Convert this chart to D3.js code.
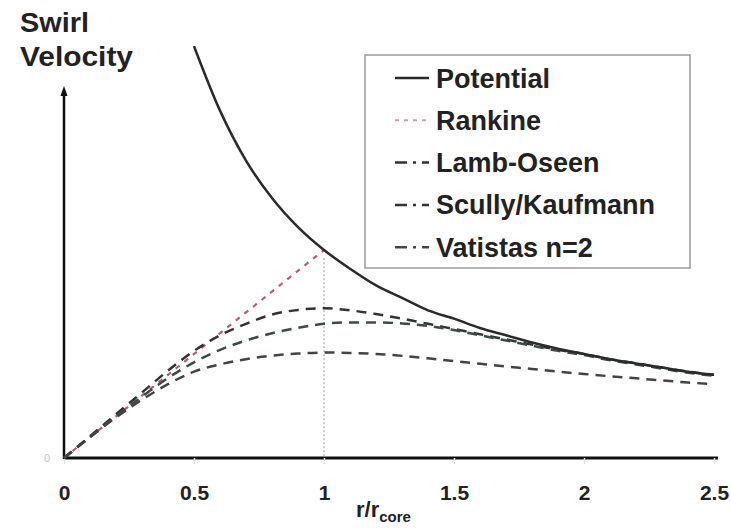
<!DOCTYPE html>
<html>
<head>
<meta charset="utf-8">
<script src="https://cdn.jsdelivr.net/npm/d3@7"></script>
<style>
  html, body { margin: 0; padding: 0; background: #fff; }
  svg { display: block; font-family: "Liberation Sans", Arial, sans-serif; }
</style>
</head>
<body>
<svg id="chart" width="731" height="528"></svg>
<script>
// ---- data ----
const radius = [0,0.1,0.2,0.3,0.4,0.5,0.6,0.7,0.8,0.9,1.0,1.1,1.2,1.3,1.4,1.5,1.6,1.7,1.8,1.9,2.0,2.1,2.2,2.3,2.4,2.5];
const lambOseen = [0,0.105,0.21,0.315,0.42,0.515,0.59,0.645,0.69,0.712,0.72,0.71,0.692,0.67,0.645,0.62,0.595,0.57,0.545,0.52,0.5,0.475,0.455,0.435,0.415,0.4];
const vatistas  = [0,0.1,0.2,0.295,0.385,0.46,0.52,0.565,0.6,0.626,0.645,0.652,0.652,0.647,0.635,0.615,0.59,0.565,0.54,0.515,0.495,0.47,0.45,0.43,0.41,0.395];
const scully    = [0,0.1,0.195,0.28,0.355,0.415,0.45,0.475,0.492,0.502,0.507,0.505,0.5,0.491,0.479,0.466,0.453,0.44,0.428,0.415,0.404,0.393,0.383,0.373,0.363,0.355];
const potentialR = [0.5,0.6,0.7,0.8,0.9,1.0,1.1,1.2,1.3,1.4,1.5,1.6,1.7,1.8,1.9,2.0,2.1,2.2,2.3,2.4,2.5];
const potential  = [1.98,1.67,1.43,1.25,1.11,1.0,0.91,0.83,0.77,0.71,0.67,0.625,0.59,0.555,0.525,0.5,0.475,0.455,0.435,0.415,0.4];
const rankineR = [0,1];
const rankine  = [0,1];
const xTicks = [0,0.5,1,1.5,2,2.5];
const xTickLabels = ["0","0.5","1","1.5","2","2.5"];
const legendNames = ["Potential","Rankine","Lamb-Oseen","Scully/Kaufmann","Vatistas n=2"];

// ---- scales ----
const svg = d3.select("#chart");
const x = d3.scaleLinear().domain([0,2.5]).range([64,714]);
const y = d3.scaleLinear().domain([0,1]).range([458,250]);

const line = d3.line().x(d => x(d[0])).y(d => y(d[1])).curve(d3.curveMonotoneX);
const zip = (a,b) => a.map((v,i) => [v,b[i]]);

// vertical dotted reference at r = 1
svg.append("line")
  .attr("x1", x(1)).attr("x2", x(1))
  .attr("y1", y(0.96)).attr("y2", y(0))
  .attr("stroke", "#b8b8b8").attr("stroke-width", 1.5)
  .attr("stroke-dasharray", "2,2");

// x axis
const xAxis = d3.axisBottom(x).tickValues(xTicks)
  .tickFormat((d,i) => xTickLabels[i]).tickSizeOuter(0).tickSizeInner(6);
const gx = svg.append("g").attr("transform", `translate(0,${y(0)})`).call(xAxis);
gx.select(".domain").attr("stroke", "#111").attr("stroke-width", 3)
  .attr("d", `M${x(0)},0H718`);
gx.selectAll(".tick line").attr("stroke", "#ddd").attr("stroke-width", 1.5);
gx.selectAll(".tick text")
  .attr("y", 42).attr("dy", 0)
  .attr("fill", "#222").attr("font-size", 21).attr("font-weight", "bold")
  .attr("font-family", "Liberation Sans, Arial, sans-serif");

// y axis (with arrow)
svg.append("line")
  .attr("x1", x(0)).attr("x2", x(0))
  .attr("y1", y(0) + 1).attr("y2", 90)
  .attr("stroke", "#111").attr("stroke-width", 2.5);
svg.append("path")
  .attr("d", `M${x(0)},86 L${x(0)-3.5},96 L${x(0)+3.5},96 Z`)
  .attr("fill", "#111");
svg.append("text")
  .attr("x", 47).attr("y", 462).attr("text-anchor", "middle")
  .attr("font-size", 11).attr("fill", "#c8c8c8").text("0");

// curves
svg.append("path").datum(zip(rankineR, rankine)).attr("d", line)
  .attr("fill", "none").attr("stroke", "#b0606e").attr("stroke-width", 2.2)
  .attr("stroke-dasharray", "5,6");

const dashed = [
  {vals: lambOseen, color: "#333333"},
  {vals: vatistas,  color: "#3e4a4a"},
  {vals: scully,    color: "#444444"}
];
dashed.forEach(s => {
  svg.append("path").datum(zip(radius, s.vals)).attr("d", line)
    .attr("fill", "none").attr("stroke", s.color).attr("stroke-width", 2.5)
    .attr("stroke-dasharray", "10,7");
});

svg.append("path").datum(zip(potentialR, potential)).attr("d", line)
  .attr("fill", "none").attr("stroke", "#2a2a2a").attr("stroke-width", 2.5);

// axis titles
svg.append("text").attr("x", 20).attr("y", 32)
  .attr("font-size", 27).attr("font-weight", "bold").attr("fill", "#222")
  .attr("textLength", 69).attr("lengthAdjust", "spacingAndGlyphs").text("Swirl");
svg.append("text").attr("x", 20).attr("y", 66)
  .attr("font-size", 27).attr("font-weight", "bold").attr("fill", "#222")
  .attr("textLength", 113).attr("lengthAdjust", "spacingAndGlyphs").text("Velocity");

const xl = svg.append("text").attr("x", 356).attr("y", 517)
  .attr("font-size", 22).attr("font-weight", "bold").attr("fill", "#222");
xl.append("tspan").text("r/r");
xl.append("tspan").attr("font-size", 15).attr("dy", 5).text("core");

// legend
const lg = svg.append("g");
lg.append("rect").attr("x", 365).attr("y", 55).attr("width", 325).attr("height", 213)
  .attr("fill", "#fff").attr("stroke", "#999").attr("stroke-width", 1.5);
const legStyles = [
  {color: "#2a2a2a", dash: null, w: 2.5},
  {color: "#c9a0aa", dash: "4,5", w: 2},
  {color: "#333333", dash: "12,6,3,6", w: 2.5},
  {color: "#333333", dash: "12,6,3,6", w: 2.5},
  {color: "#3e4a4a", dash: "12,6,3,6", w: 2.5}
];
legendNames.forEach((name, i) => {
  const cy = 78 + i * 42.3;
  const st = legStyles[i];
  const l = lg.append("line").attr("x1", 395).attr("x2", 429).attr("y1", cy).attr("y2", cy)
    .attr("stroke", st.color).attr("stroke-width", st.w);
  if (st.dash) l.attr("stroke-dasharray", st.dash);
  lg.append("text").attr("x", 436).attr("y", cy + 9.5)
    .attr("font-size", 27).attr("font-weight", "bold").attr("fill", "#222").text(name);
});
</script>
</body>
</html>
